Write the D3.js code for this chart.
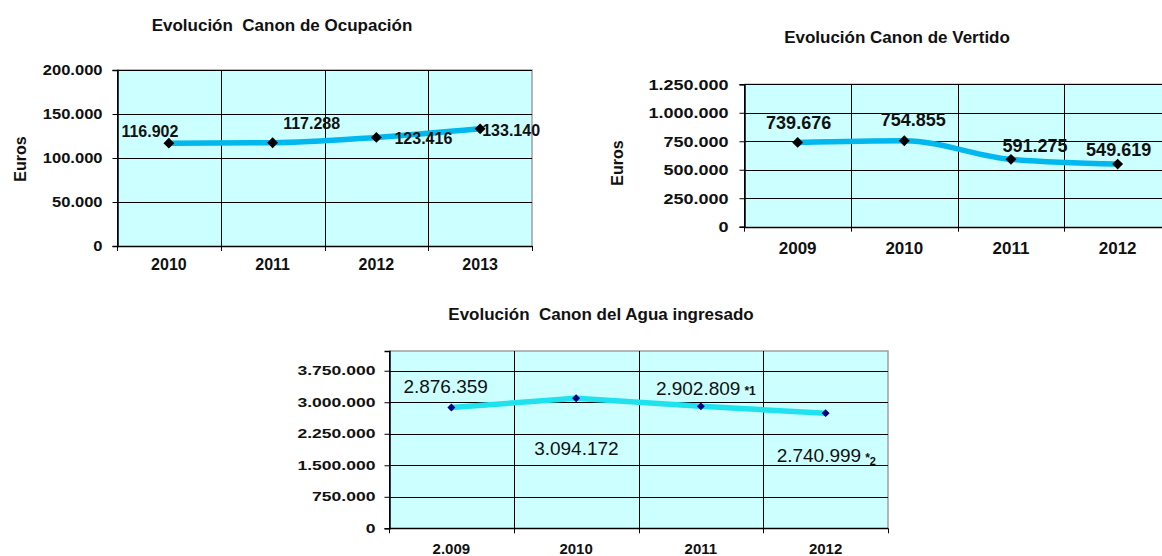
<!DOCTYPE html>
<html>
<head>
<meta charset="utf-8">
<script src="https://cdn.jsdelivr.net/npm/d3@7"></script>
<style>
  html, body { margin: 0; padding: 0; background: #fff; }
  svg { display: block; font-family: "Liberation Sans", Arial, sans-serif; }
  .title { white-space: pre; }
</style>
</head>
<body>
<svg id="chart" width="1162" height="556"></svg>
<script>
// values
const yearsOcupacion = ["2010", "2011", "2012", "2013"];
const valuesOcupacion = [116902, 117288, 123416, 133140];
const ticksOcupacion = [0, 50000, 100000, 150000, 200000];

const yearsVertido = ["2009", "2010", "2011", "2012"];
const valuesVertido = [739676, 754855, 591275, 549619];
const ticksVertido = [0, 250000, 500000, 750000, 1000000, 1250000];

const yearsAgua = ["2.009", "2010", "2011", "2012"];
const valuesAgua = [2876359, 3094172, 2902809, 2740999];
const ticksAgua = [0, 750000, 1500000, 2250000, 3000000, 3750000];
const notesAgua = ["", "", "1", "2"];

const es = d3.formatLocale({ decimal: ",", thousands: ".", grouping: [3], currency: ["", " €"] });
const fmt = es.format(",d");

const svg = d3.select("#chart");

// widen text a little, the original labels are stretched horizontally
function stretch(sel, k) {
  sel.each(function () {
    const w = this.getComputedTextLength();
    if (w > 0) {
      this.setAttribute("textLength", w * k);
      this.setAttribute("lengthAdjust", "spacingAndGlyphs");
    }
  });
}

function drawChart(c) {
  const g = svg.append("g");
  const x = d3.scaleBand().domain(c.years).range([c.left, c.right]).padding(0);
  const y = d3.scaleLinear().domain([0, c.yMax]).range([c.bottom, c.top]);

  g.append("rect")
    .attr("x", c.left).attr("y", c.top)
    .attr("width", c.right - c.left).attr("height", c.bottom - c.top)
    .attr("fill", "#CCFFFF");

  // top and right border in grey
  g.append("path")
    .attr("d", `M${c.left},${c.top}H${c.right}V${c.bottom}`)
    .attr("fill", "none").attr("stroke", "#A0A0A0").attr("stroke-width", 1.5);

  // horizontal grid
  g.selectAll(".hg").data(c.ticks.filter(d => d > 0)).join("line")
    .attr("x1", c.left).attr("x2", c.right)
    .attr("y1", d => Math.round(y(d)) + 0.5).attr("y2", d => Math.round(y(d)) + 0.5)
    .attr("stroke", "#000").attr("stroke-width", 1);

  // vertical grid on category boundaries, running down as tick marks
  const bounds = c.years.map(d => x(d)).concat([c.right]);
  g.selectAll(".vg").data(bounds).join("line")
    .attr("x1", d => Math.round(d) + 0.5).attr("x2", d => Math.round(d) + 0.5)
    .attr("y1", (d, i) => i === bounds.length - 1 ? c.bottom : c.top)
    .attr("y2", c.bottom + 5)
    .attr("stroke", "#000").attr("stroke-width", 1);

  // y axis
  const ya = g.append("g")
    .attr("transform", `translate(${Math.round(c.left) + 0.5},0)`)
    .call(d3.axisLeft(y).tickValues(c.ticks).tickFormat(fmt).tickSize(5).tickPadding(c.tickPad));
  ya.select(".domain").attr("stroke", "#000").attr("stroke-width", 1.5);
  ya.selectAll(".tick line").attr("stroke", "#000");
  ya.selectAll("text")
    .attr("fill", "#111").attr("font-size", c.yFont).attr("font-weight", "bold")
    .attr("font-family", '"Liberation Sans", Arial, sans-serif');
  stretch(ya.selectAll("text"), c.yStretch);

  // x baseline
  g.append("line")
    .attr("x1", c.left).attr("x2", c.right)
    .attr("y1", Math.round(c.bottom) + 0.5).attr("y2", Math.round(c.bottom) + 0.5)
    .attr("stroke", "#000").attr("stroke-width", 1.5);

  // x labels
  g.selectAll(".xl").data(c.years).join("text")
    .attr("x", d => x(d) + x.bandwidth() / 2)
    .attr("y", c.xLabelY)
    .attr("text-anchor", "middle")
    .attr("font-size", c.xFont).attr("font-weight", "bold").attr("fill", "#111")
    .text(d => d);

  const pts = c.values.map((v, i) => ({ year: c.years[i], v: v, i: i }));
  const line = d3.line()
    .x(d => x(d.year) + x.bandwidth() / 2)
    .y(d => y(d.v))
    .curve(c.curve);

  g.append("path")
    .attr("d", line(pts))
    .attr("fill", "none").attr("stroke", c.lineColor)
    .attr("stroke-width", c.lineWidth).attr("stroke-linejoin", "round").attr("stroke-linecap", "round");

  const diamond = d3.symbol().type(d3.symbolDiamond2).size(c.markerSize);
  g.selectAll(".mk").data(pts).join("path")
    .attr("transform", d => `translate(${x(d.year) + x.bandwidth() / 2},${y(d.v)})`)
    .attr("d", diamond)
    .attr("fill", c.markerColor);

  // data labels
  const lbl = g.selectAll(".dl").data(pts).join("text")
    .attr("x", d => x(d.year) + x.bandwidth() / 2 + c.labelOffsets[d.i][0])
    .attr("y", d => y(d.v) + c.labelOffsets[d.i][1])
    .attr("dy", "0.36em")
    .attr("text-anchor", c.labelAnchor)
    .attr("font-size", c.labelFont).attr("font-weight", c.labelWeight).attr("fill", "#111");
  lbl.append("tspan").text(d => fmt(d.v));
  if (c.notes) {
    lbl.each(function (d) {
      const n = c.notes[d.i];
      if (!n) return;
      const t = d3.select(this);
      t.append("tspan").attr("dx", 4).attr("font-size", 12).attr("font-weight", "bold").text("*");
      if (n === "2") {
        t.append("tspan").attr("dy", 3).attr("font-size", 11).attr("font-weight", "bold").text(n);
      } else {
        t.append("tspan").attr("font-size", 12).attr("font-weight", "bold").text(n);
      }
    });
  }

  // title
  g.append("text")
    .attr("class", "title")
    .attr("x", c.titleX).attr("y", c.titleY)
    .attr("text-anchor", "middle")
    .attr("font-size", 17).attr("font-weight", "bold").attr("fill", "#111")
    .text(c.title);

  if (c.euros) {
    g.append("text")
      .attr("transform", `translate(${c.euros[0]},${c.euros[1]}) rotate(-90)`)
      .attr("text-anchor", "middle").attr("dy", "0.36em")
      .attr("font-size", 16).attr("font-weight", "bold").attr("fill", "#111")
      .text("Euros");
  }
}

drawChart({
  years: yearsOcupacion, values: valuesOcupacion, ticks: ticksOcupacion,
  left: 117, right: 532, top: 70, bottom: 246, yMax: 200000,
  tickPad: 10, yFont: 15, yStretch: 1.1, xFont: 16, xLabelY: 270,
  lineColor: "#00B8EE", lineWidth: 5.5, curve: d3.curveMonotoneX,
  markerColor: "#000", markerSize: 75,
  labelOffsets: [[-19, -12], [39, -20], [47, 1], [31, 1]],
  labelAnchor: "middle", labelFont: 16, labelWeight: "bold",
  title: "Evolución  Canon de Ocupación", titleX: 282, titleY: 31,
  euros: [20, 159]
});

drawChart({
  years: yearsVertido, values: valuesVertido, ticks: ticksVertido,
  left: 744.3, right: 1171, top: 84.3, bottom: 226.7, yMax: 1250000,
  tickPad: 11, yFont: 15, yStretch: 1.2, xFont: 17, xLabelY: 254,
  lineColor: "#00B8EE", lineWidth: 5.5, curve: d3.curveMonotoneX,
  markerColor: "#000", markerSize: 75,
  labelOffsets: [[1, -20], [9, -21], [24, -14], [1, -15]],
  labelAnchor: "middle", labelFont: 18, labelWeight: "bold",
  title: "Evolución Canon de Vertido", titleX: 897, titleY: 43,
  euros: [617, 163]
});

drawChart({
  years: yearsAgua, values: valuesAgua, ticks: ticksAgua, notes: notesAgua,
  left: 389, right: 888, top: 351, bottom: 528.3, yMax: 4220000,
  tickPad: 9, yFont: 13, yStretch: 1.35, xFont: 15, xLabelY: 554,
  lineColor: "#20E2EE", lineWidth: 5.5, curve: d3.curveLinear,
  markerColor: "#000080", markerSize: 40,
  labelOffsets: [[-48, -21], [-42, 50], [-45, -18], [-49, 42]],
  labelAnchor: "start", labelFont: 19, labelWeight: "normal",
  title: "Evolución  Canon del Agua ingresado", titleX: 601, titleY: 320,
  euros: null
});
</script>
</body>
</html>
